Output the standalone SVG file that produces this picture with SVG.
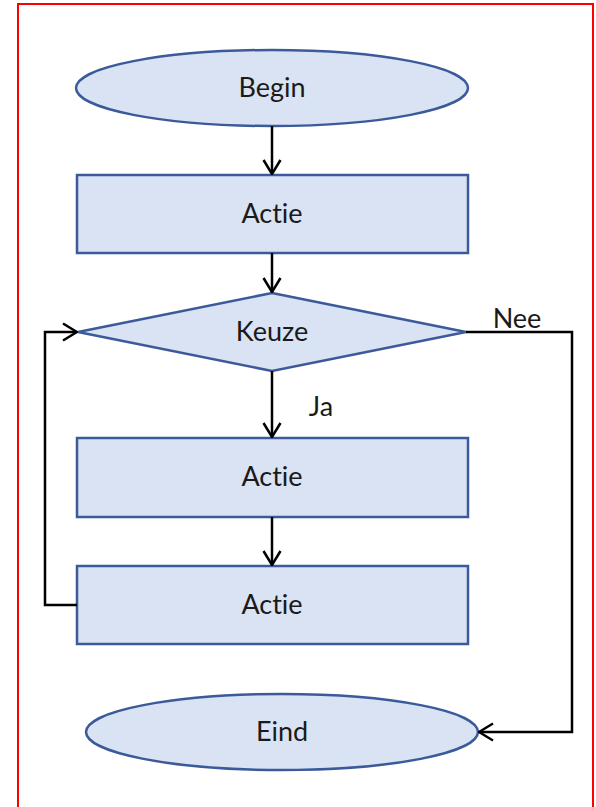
<svg xmlns="http://www.w3.org/2000/svg" width="596" height="807" viewBox="0 0 596 807">
<style>
.shape{fill:#dae3f3;stroke:#3b5a9a;stroke-width:2.5}
.lbl{font-family:Lato,"Open Sans","Liberation Sans",sans-serif;font-size:27px;fill:#1a1a1a;text-anchor:middle;dominant-baseline:central;font-variant-ligatures:none}
.conn{fill:none;stroke:#000;stroke-width:2.5}
</style>
<defs>
<marker id="arr" viewBox="0 0 16 20" refX="15" refY="10" markerWidth="16" markerHeight="20" markerUnits="userSpaceOnUse" orient="auto">
<path d="M1,1.5 L15,10 L1,18.5" fill="none" stroke="#000" stroke-width="2.5"/>
</marker>
</defs>
<rect x="18" y="4" width="575" height="810" fill="#fff" stroke="#ff0000" stroke-width="2"/>
<g id="begin"><ellipse class="shape" cx="272" cy="88" rx="196" ry="38"/><text class="lbl" x="272" y="86">Begin</text></g>
<g id="actie1"><rect class="shape" x="77" y="175" width="391" height="78"/><text class="lbl" x="272" y="212">Actie</text></g>
<g id="keuze"><polygon class="shape" points="272,293 466,332 272,371 78,332"/><text class="lbl" x="272" y="330">Keuze</text></g>
<g id="actie2"><rect class="shape" x="77" y="438" width="391" height="79"/><text class="lbl" x="272" y="475">Actie</text></g>
<g id="actie3"><rect class="shape" x="77" y="566" width="391" height="78"/><text class="lbl" x="272" y="603">Actie</text></g>
<g id="eind"><ellipse class="shape" cx="282" cy="732" rx="196" ry="38"/><text class="lbl" x="282" y="730">Eind</text></g>
<g id="connectors">
<line class="conn" x1="272" y1="126" x2="272" y2="174" marker-end="url(#arr)"/>
<line class="conn" x1="272" y1="253" x2="272" y2="292" marker-end="url(#arr)"/>
<line class="conn" x1="272" y1="371" x2="272" y2="437" marker-end="url(#arr)"/>
<line class="conn" x1="272" y1="517" x2="272" y2="565" marker-end="url(#arr)"/>
<polyline class="conn" points="77,605 45,605 45,332 77,332" marker-end="url(#arr)"/>
<polyline class="conn" points="466,332 572,332 572,732 479,732" marker-end="url(#arr)"/>
<text class="lbl" x="321" y="405">Ja</text>
<text class="lbl" x="517" y="317">Nee</text>
</g>
</svg>
